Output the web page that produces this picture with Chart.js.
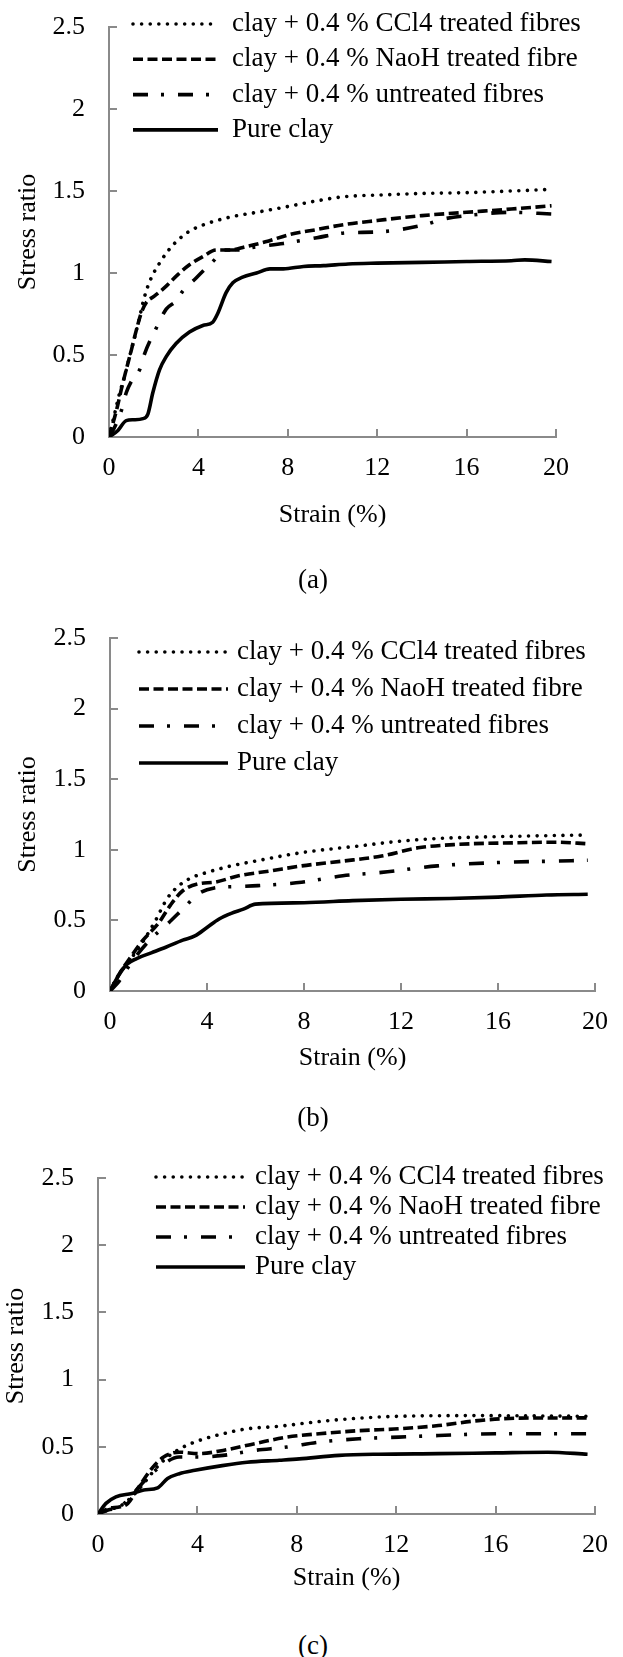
<!DOCTYPE html>
<html><head><meta charset="utf-8">
<script src="https://cdn.jsdelivr.net/npm/chart.js@4.4.1/dist/chart.umd.min.js"></script>
<style>
html,body{margin:0;padding:0;background:#fff;}
body{width:623px;height:1657px;position:relative;overflow:hidden;}
canvas{position:absolute;left:0;}
.cap{position:absolute;left:263px;width:100px;text-align:center;font-family:"Liberation Serif","Times New Roman",serif;font-size:27px;line-height:30px;color:#000;}
</style></head><body>
<canvas id="ca"></canvas>
<canvas id="cb"></canvas>
<canvas id="cc"></canvas>
<div class="cap" style="top:564px">(a)</div>
<div class="cap" style="top:1102px">(b)</div>
<div class="cap" style="top:1630px">(c)</div>
<script>
const SERIES_LABELS = ['clay + 0.4 % CCl4 treated fibres','clay + 0.4 % NaoH treated fibre','clay + 0.4 % untreated fibres','Pure clay'];
const X_TICK_VALUES = [0,4,8,12,16,20];
const X_TICK_LABELS = ['0','4','8','12','16','20'];
const Y_TICK_VALUES = [0,0.5,1,1.5,2,2.5];
const Y_TICK_LABELS = ['0','0.5','1','1.5','2','2.5'];
const X_TITLE = 'Strain (%)';
const Y_TITLE = 'Stress ratio';

// Panel (a)
const A_CCL4_X = [0,0.25,0.48,0.7,0.92,1.15,1.37,1.52,1.74,1.96,2.26,2.56,3.0,3.6,4.35,5.4,6.6,7.8,9.3,10.5,12,14,16,18,19.8];
const A_CCL4_Y = [0,0.14,0.27,0.37,0.49,0.61,0.73,0.82,0.92,0.99,1.06,1.12,1.19,1.255,1.30,1.34,1.37,1.40,1.44,1.465,1.475,1.485,1.49,1.50,1.51];
const A_NAOH_X = [0,0.33,0.55,0.77,1.0,1.22,1.44,1.67,2.04,2.56,3.08,3.6,4.2,4.8,5.4,6.1,7.0,8.1,9.3,10.5,12,14,16,18,19.8];
const A_NAOH_Y = [0,0.16,0.29,0.41,0.53,0.65,0.755,0.82,0.86,0.92,0.99,1.05,1.10,1.14,1.14,1.16,1.19,1.235,1.265,1.295,1.32,1.35,1.37,1.39,1.41];
const A_UNTR_X = [0,0.25,0.55,0.77,1.0,1.37,1.6,2.1,2.56,3.0,3.3,3.9,4.27,4.72,5.1,5.7,6.6,7.8,9.3,10.6,12,14,15,16,18,19.8];
const A_UNTR_Y = [0,0.06,0.16,0.27,0.34,0.41,0.51,0.66,0.78,0.83,0.89,0.97,1.02,1.08,1.14,1.14,1.16,1.18,1.215,1.245,1.25,1.29,1.33,1.35,1.37,1.36];
const A_PURE_X = [0,0.4,0.77,1.1,1.52,1.74,1.96,2.26,2.56,3.0,3.6,4.2,4.64,4.87,5.24,5.54,5.98,6.6,7.2,7.8,8.7,9.6,10.7,12,14,16,18,18.6,19.8];
const A_PURE_Y = [0,0.04,0.10,0.105,0.112,0.14,0.27,0.41,0.49,0.57,0.64,0.68,0.70,0.755,0.88,0.94,0.975,1.0,1.025,1.025,1.04,1.045,1.055,1.06,1.065,1.07,1.075,1.08,1.07];

// Panel (b)
const B_CCL4_X = [0,0.38,0.87,1.36,1.85,2.34,2.84,3.33,4.0,5.0,6.0,7.9,10.2,11.9,13.5,16.8,19.7];
const B_CCL4_Y = [0,0.12,0.23,0.35,0.49,0.65,0.746,0.80,0.84,0.886,0.92,0.98,1.026,1.06,1.08,1.096,1.105];
const B_NAOH_X = [0,0.38,0.87,1.36,2.0,2.5,3.0,3.66,4.3,5.3,6.6,7.9,9.6,11.2,12.7,14.3,16.8,18.4,19.7];
const B_NAOH_Y = [0,0.12,0.245,0.36,0.48,0.61,0.71,0.76,0.77,0.816,0.85,0.886,0.92,0.956,1.014,1.038,1.05,1.054,1.043];
const B_UNTR_X = [0,0.38,0.87,1.69,2.34,3.0,3.66,4.3,5.3,6.1,7.9,9.6,11.2,13.5,16.0,18.4,19.7];
const B_UNTR_Y = [0,0.07,0.2,0.37,0.47,0.58,0.69,0.73,0.74,0.746,0.77,0.816,0.84,0.886,0.91,0.92,0.926];
const B_PURE_X = [0,0.38,0.7,1.1,1.7,2.3,3.0,3.5,4.0,4.5,5.0,5.5,6.0,8.0,10,12,14,16,18,19.7];
const B_PURE_Y = [0,0.117,0.19,0.23,0.27,0.31,0.36,0.39,0.45,0.51,0.55,0.58,0.615,0.625,0.64,0.65,0.655,0.665,0.68,0.685];

// Panel (c)
const C_CCL4_X = [0,0.4,0.9,1.36,1.84,2.32,2.8,3.43,4.07,5.03,6.0,7.3,8.9,10.5,12.1,15.3,19.7];
const C_CCL4_Y = [0,0.03,0.06,0.128,0.227,0.338,0.424,0.498,0.547,0.597,0.634,0.653,0.688,0.713,0.727,0.732,0.727];
const C_NAOH_X = [0,0.4,0.9,1.2,1.6,2.16,2.64,3.27,4.07,5.03,6.3,7.6,8.9,10.5,12.1,13.7,15.3,16.9,19.7];
const C_NAOH_Y = [0,0.04,0.054,0.079,0.19,0.338,0.424,0.46,0.449,0.473,0.523,0.572,0.597,0.62,0.634,0.658,0.695,0.713,0.715];
const C_UNTR_X = [0,0.4,0.9,1.36,1.84,2.48,3.27,4.07,5.03,6.3,7.6,8.9,10.5,12.1,13.7,16.0,19.7];
const C_UNTR_Y = [0,0.03,0.054,0.14,0.24,0.35,0.424,0.424,0.436,0.473,0.498,0.535,0.56,0.572,0.584,0.597,0.597];
const C_PURE_X = [0,0.32,0.72,1.36,1.84,2.4,2.8,3.27,3.9,5.0,6.0,7.3,8.1,9.7,11.3,13.7,16.0,18.1,19.7];
const C_PURE_Y = [0,0.079,0.128,0.153,0.178,0.195,0.264,0.30,0.325,0.36,0.385,0.40,0.41,0.436,0.445,0.449,0.455,0.46,0.445];

const FONT = '"Liberation Serif","Times New Roman",serif';
const AXIS_GREY = '#8a8a8a';
const STYLES = [
  {borderDash:[0.01,8.6], borderCapStyle:'round', borderWidth:3.6},
  {borderDash:[10,4.5], borderCapStyle:'butt', borderWidth:3.6},
  {borderDash:[15,13,3,14], borderCapStyle:'butt', borderWidth:3.6},
  {borderDash:[], borderCapStyle:'butt', borderWidth:3.6}
];

const legendPlugin = {
  id:'inlegend',
  afterDatasetsDraw(chart, args, o){
    const ctx = chart.ctx;
    chart.data.datasets.forEach((ds,i)=>{
      const y = o.y + i*o.rowH;
      ctx.save();
      ctx.strokeStyle = '#000';
      ctx.lineWidth = ds.borderWidth;
      ctx.setLineDash(ds.borderDash || []);
      ctx.lineCap = ds.borderCapStyle || 'butt';
      ctx.beginPath(); ctx.moveTo(o.x0, y); ctx.lineTo(o.x1, y); ctx.stroke();
      ctx.setLineDash([]);
      ctx.fillStyle = '#000';
      ctx.font = '27px ' + FONT;
      ctx.textBaseline = 'middle';
      ctx.textAlign = 'left';
      ctx.fillText(ds.label, o.tx, y);
      ctx.restore();
    });
  }
};

const tickPlugin = {
  id:'inticks',
  beforeDatasetsDraw(chart){
    const {ctx, chartArea, scales} = chart;
    ctx.save();
    ctx.strokeStyle = AXIS_GREY; ctx.lineWidth = 2;
    scales.x.ticks.forEach(t=>{
      const px = Math.round(scales.x.getPixelForValue(t.value));
      ctx.beginPath(); ctx.moveTo(px, chartArea.bottom); ctx.lineTo(px, chartArea.bottom - 8); ctx.stroke();
    });
    scales.y.ticks.forEach(t=>{
      const py = Math.round(scales.y.getPixelForValue(t.value));
      ctx.beginPath(); ctx.moveTo(chartArea.left, py); ctx.lineTo(chartArea.left + 8, py); ctx.stroke();
    });
    ctx.restore();
  }
};

function pts(xs, ys){ return xs.map((v,i)=>({x:v, y:ys[i]})); }

function makeChart(id, g, xs, ys){
  const cv = document.getElementById(id);
  const H = Math.round(g.xTitleY + 16 - g.top);
  cv.width = 623; cv.height = H;
  cv.style.top = g.top + 'px';
  const xAxisH = H - (g.plotBottom - g.top);
  new Chart(cv, {
    type:'line',
    data:{datasets: SERIES_LABELS.map((lab,i)=>Object.assign({
      label: lab, data: pts(xs[i], ys[i]), borderColor:'#000', backgroundColor:'#000',
      pointRadius:0, fill:false, cubicInterpolationMode:'monotone'
    }, STYLES[i]))},
    options:{
      responsive:false, animation:false, devicePixelRatio:1,
      layout:{padding:{left:0, top:g.plotTop - g.top, right:623 - g.plotRight, bottom:0}},
      plugins:{
        legend:{display:false}, tooltip:{enabled:false},
        inlegend:{x0:g.lx0, x1:g.lx1, tx:g.tx, y:g.ly - g.top, rowH:g.rowH}
      },
      scales:{
        x:{
          type:'linear', min:0, max:20,
          afterBuildTicks: s=>{ s.ticks = X_TICK_VALUES.map(v=>({value:v})); },
          ticks:{autoSkip:false, maxRotation:0, padding:16, color:'#000', font:{family:FONT, size:26},
                 callback:(v,i)=>X_TICK_LABELS[i]},
          grid:{display:false, drawTicks:false},
          border:{display:true, color:AXIS_GREY, width:2},
          title:{display:true, text:X_TITLE, color:'#000', font:{family:FONT, size:26}, padding:0},
          afterFit: s=>{ s.height = xAxisH; s.paddingLeft = 0; s.paddingRight = 0; }
        },
        y:{
          type:'linear', min:0, max:2.5,
          afterBuildTicks: s=>{ s.ticks = Y_TICK_VALUES.map(v=>({value:v})); },
          ticks:{autoSkip:false, padding:24, color:'#000', font:{family:FONT, size:26},
                 callback:(v,i)=>Y_TICK_LABELS[i]},
          grid:{display:false, drawTicks:false},
          border:{display:true, color:AXIS_GREY, width:2},
          title:{display:true, text:Y_TITLE, color:'#000', font:{family:FONT, size:26},
                 padding:{top:Math.max(0, g.yTitleX - 15.6), bottom:0}},
          afterFit: s=>{ s.width = g.plotLeft; s.paddingTop = 0; s.paddingBottom = 0; }
        }
      }
    },
    plugins:[tickPlugin, legendPlugin]
  });
}

makeChart('ca', {top:0, plotLeft:109, plotRight:556, plotTop:27, plotBottom:437, yTitleX:28, xTitleY:515,
  lx0:133, lx1:218, tx:232, ly:24, rowH:35.3},
  [A_CCL4_X, A_NAOH_X, A_UNTR_X, A_PURE_X], [A_CCL4_Y, A_NAOH_Y, A_UNTR_Y, A_PURE_Y]);
makeChart('cb', {top:560, plotLeft:110, plotRight:595, plotTop:638, plotBottom:991, yTitleX:28, xTitleY:1058,
  lx0:139, lx1:228, tx:237, ly:652, rowH:37},
  [B_CCL4_X, B_NAOH_X, B_UNTR_X, B_PURE_X], [B_CCL4_Y, B_NAOH_Y, B_UNTR_Y, B_PURE_Y]);
makeChart('cc', {top:1110, plotLeft:98, plotRight:595, plotTop:1178, plotBottom:1514, yTitleX:16, xTitleY:1578,
  lx0:156, lx1:245, tx:255, ly:1177, rowH:30},
  [C_CCL4_X, C_NAOH_X, C_UNTR_X, C_PURE_X], [C_CCL4_Y, C_NAOH_Y, C_UNTR_Y, C_PURE_Y]);
</script>
</body></html>
